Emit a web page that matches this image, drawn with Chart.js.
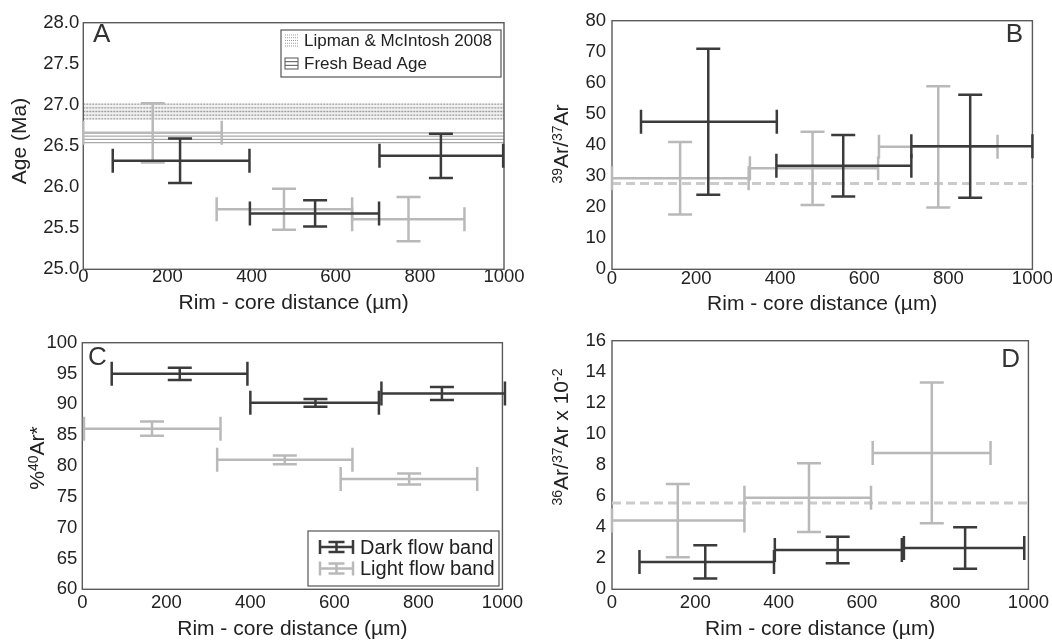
<!DOCTYPE html>
<html>
<head>
<meta charset="utf-8">
<script src="https://cdn.jsdelivr.net/npm/chart.js@4.4.0/dist/chart.umd.min.js"></script>
<style>
body { margin: 0; background: #fff; }
#wrap { position: relative; width: 1052px; height: 640px; }
.panel { position: absolute; width: 526px; height: 320px; }
</style>
</head>
<body>
<div id="wrap">
  <div class="panel" style="left:0;top:0"><canvas id="chartA" width="526" height="320"></canvas></div>
  <div class="panel" style="left:526px;top:0"><canvas id="chartB" width="526" height="320"></canvas></div>
  <div class="panel" style="left:0;top:320px"><canvas id="chartC" width="526" height="320"></canvas></div>
  <div class="panel" style="left:526px;top:320px"><canvas id="chartD" width="526" height="320"></canvas></div>
</div>
<script>
// shared
var seriesLabels = ['Dark flow band', 'Light flow band'];
var xTicks = [0, 200, 400, 600, 800, 1000];

// A - age (Ma)
var aTicks = [25.0, 25.5, 26.0, 26.5, 27.0, 27.5, 28.0];
var aDarkX = [230, 551, 850];
var aDarkXLo = [70, 396, 704];
var aDarkXHi = [395, 703, 998];
var aDarkY = [26.32, 25.68, 26.38];
var aDarkErr = [0.27, 0.16, 0.27];
var aLightX = [165, 477, 773];
var aLightXLo = [0, 317, 639];
var aLightXHi = [329, 639, 906];
var aLightY = [26.66, 25.73, 25.61];
var aLightErr = [0.36, 0.25, 0.27];
var bandLabels = ['Lipman & McIntosh 2008', 'Fresh Bead Age'];
var bandLo = [26.83, 26.54];
var bandHi = [27.01, 26.66];

// B - 39Ar/37Ar
var bTicks = [0, 10, 20, 30, 40, 50, 60, 70, 80];
var bDarkX = [229, 550, 852];
var bDarkXLo = [69, 391, 712];
var bDarkXHi = [392, 712, 1000];
var bDarkY = [47.5, 33.3, 39.6];
var bDarkErr = [23.5, 9.9, 16.6];
var bLightX = [162, 477, 776];
var bLightXLo = [0, 328, 635];
var bLightXHi = [325, 633, 917];
var bLightY = [29.3, 32.5, 39.4];
var bLightErr = [11.7, 11.8, 19.5];
var bRef = 27.6;

// C - %40Ar*
var cTicks = [60, 65, 70, 75, 80, 85, 90, 95, 100];
var cDarkX = [232, 555, 856];
var cDarkXLo = [70, 400, 712];
var cDarkXHi = [393, 706, 1006];
var cDarkY = [94.95, 90.24, 91.75];
var cDarkErr = [1.0, 0.62, 1.05];
var cLightX = [166, 482, 778];
var cLightXLo = [4, 321, 615];
var cLightXHi = [329, 643, 940];
var cLightY = [86.05, 81.0, 77.9];
var cLightErr = [1.15, 0.7, 0.9];

// D - 36Ar/37Ar x 10^-2
var dTicks = [0, 2, 4, 6, 8, 10, 12, 14, 16];
var dDarkX = [224, 542, 848];
var dDarkXLo = [66, 391, 701];
var dDarkXHi = [389, 696, 990];
var dDarkY = [1.76, 2.53, 2.66];
var dDarkErr = [1.07, 0.86, 1.33];
var dLightX = [158, 473, 768];
var dLightXLo = [0, 318, 626];
var dLightXHi = [318, 622, 909];
var dLightY = [4.42, 5.9, 8.78];
var dLightErr = [2.36, 2.21, 4.53];
var dRef = 5.56;

var FONT = "'Liberation Sans', Arial, Helvetica, sans-serif";
var TXT = '#222';
var DARK = '#3b3b3b';
var LIGHT = '#b9b9b9';
var REF = '#cbcbcb';
var CAP = 12;

function barSet(label, color, xs, lo, hi, ys, err) {
  return {
    label: label,
    data: xs.map(function (x, i) { return { x: x, y: ys[i] }; }),
    xLo: lo, xHi: hi, yErr: err,
    borderColor: color, backgroundColor: color,
    pointRadius: 0, showLine: false
  };
}

function refLine(y) {
  return {
    type: 'line', label: 'ref',
    data: [{ x: xTicks[0], y: y }, { x: xTicks[xTicks.length - 1], y: y }],
    borderColor: REF, borderWidth: 3, borderDash: [9, 5],
    pointRadius: 0, fill: false
  };
}

// text with ^{sup} parts, centred at x,y (optionally rotated)
function drawRich(ctx, text, x, y, size, rotate) {
  var small = Math.round(size * 0.65);
  var w = 0;
  var items = text.split(/(\^\{[^}]*\})/).filter(Boolean).map(function (s) {
    var sup = s.charAt(0) === '^';
    var t = sup ? s.slice(2, -1) : s;
    ctx.font = (sup ? small : size) + 'px ' + FONT;
    var m = ctx.measureText(t).width;
    w += m;
    return { t: t, sup: sup, w: m };
  });
  ctx.save();
  ctx.translate(x, y);
  if (rotate) ctx.rotate(-Math.PI / 2);
  ctx.fillStyle = TXT;
  ctx.textBaseline = 'alphabetic';
  ctx.textAlign = 'left';
  var cx = -w / 2;
  items.forEach(function (it) {
    ctx.font = (it.sup ? small : size) + 'px ' + FONT;
    ctx.fillText(it.t, cx, it.sup ? size * 0.03 : size * 0.35);
    cx += it.w;
  });
  ctx.restore();
}

function panelPlugin(p) {
  return {
    id: 'panel' + p.letter,
    beforeDatasetsDraw: function (chart) {
      var ctx = chart.ctx, a = chart.chartArea, ys = chart.scales.y;
      ctx.save();
      // bands (panel A)
      if (p.bands) {
        p.bands.lo.forEach(function (lo, i) {
          var st = p.bands.styles[i];
          var y0 = ys.getPixelForValue(p.bands.hi[i]), y1 = ys.getPixelForValue(lo);
          if (st.fill) { ctx.fillStyle = st.fill; ctx.fillRect(a.left, y0, a.right - a.left, y1 - y0); }
          ctx.strokeStyle = st.color; ctx.lineWidth = 1.3; ctx.setLineDash(st.dash);
          for (var k = 0; k < st.lines; k++) {
            var yy = y0 + (y1 - y0) * k / (st.lines - 1);
            ctx.beginPath(); ctx.moveTo(a.left, yy); ctx.lineTo(a.right, yy); ctx.stroke();
          }
          ctx.setLineDash([]);
        });
      }
      // frame
      ctx.strokeStyle = '#5a5a5a'; ctx.lineWidth = 1.4;
      ctx.strokeRect(a.left, a.top, a.right - a.left, a.bottom - a.top);
      ctx.restore();
    },
    afterDatasetsDraw: function (chart) {
      var ctx = chart.ctx, a = chart.chartArea, xs = chart.scales.x, ys = chart.scales.y;
      ctx.save();
      ctx.lineWidth = 2.5;
      ctx.lineCap = 'butt';
      // light bars first, dark on top
      for (var i = chart.data.datasets.length - 1; i >= 0; i--) {
        var ds = chart.data.datasets[i];
        if (!ds.yErr) continue;
        ctx.strokeStyle = ds.borderColor;
        ds.data.forEach(function (pt, j) {
          var x = xs.getPixelForValue(pt.x), y = ys.getPixelForValue(pt.y);
          var x0 = xs.getPixelForValue(ds.xLo[j]), x1 = xs.getPixelForValue(ds.xHi[j]);
          var yt = ys.getPixelForValue(pt.y + ds.yErr[j]), yb = ys.getPixelForValue(pt.y - ds.yErr[j]);
          ctx.beginPath();
          ctx.moveTo(x0, y); ctx.lineTo(x1, y);
          ctx.moveTo(x0, y - CAP); ctx.lineTo(x0, y + CAP);
          ctx.moveTo(x1, y - CAP); ctx.lineTo(x1, y + CAP);
          ctx.moveTo(x, yt); ctx.lineTo(x, yb);
          ctx.moveTo(x - CAP, yt); ctx.lineTo(x + CAP, yt);
          ctx.moveTo(x - CAP, yb); ctx.lineTo(x + CAP, yb);
          ctx.stroke();
        });
      }

      // band legend (A)
      if (p.bands) {
        var L = p.legendBox;
        ctx.strokeStyle = '#555'; ctx.lineWidth = 1.2;
        ctx.fillStyle = '#fff';
        ctx.fillRect(L.x, L.y, L.w, L.h);
        ctx.strokeRect(L.x, L.y, L.w, L.h);
        p.bands.labels.forEach(function (lab, i) {
          var cy = L.y + L.row0 + i * L.rowGap;
          var ix = L.x + 4, iw = 13, ih = 11;
          ctx.lineWidth = 1;
          if (i === 0) {
            ctx.strokeStyle = '#999'; ctx.setLineDash([1, 1]);
            for (var k = 0; k < 5; k++) {
              ctx.beginPath(); ctx.moveTo(ix, cy - ih / 2 + k * ih / 4); ctx.lineTo(ix + iw, cy - ih / 2 + k * ih / 4); ctx.stroke();
            }
            ctx.setLineDash([]);
          } else {
            ctx.strokeStyle = '#555';
            ctx.strokeRect(ix, cy - ih / 2, iw, ih);
            ctx.beginPath();
            ctx.moveTo(ix, cy - ih / 6); ctx.lineTo(ix + iw, cy - ih / 6);
            ctx.moveTo(ix, cy + ih / 6); ctx.lineTo(ix + iw, cy + ih / 6);
            ctx.stroke();
          }
          ctx.fillStyle = TXT; ctx.font = L.font + 'px ' + FONT;
          ctx.textBaseline = 'middle'; ctx.textAlign = 'left';
          ctx.fillText(lab, L.x + L.textDx, cy + 1);
        });
      }

      // series legend (C)
      if (p.seriesLegend) {
        var S = p.legendBox;
        ctx.strokeStyle = '#555'; ctx.lineWidth = 1.2;
        ctx.fillStyle = '#fff';
        ctx.fillRect(S.x, S.y, S.w, S.h);
        ctx.strokeRect(S.x, S.y, S.w, S.h);
        [0, 1].forEach(function (i) {
          var ds = chart.data.datasets[i];
          var cy = S.y + S.row0 + i * S.rowGap;
          var ix = S.x + 12, iw = 33, mid = ix + iw / 2;
          ctx.strokeStyle = ds.borderColor; ctx.lineWidth = 2.5;
          ctx.beginPath();
          ctx.moveTo(ix, cy); ctx.lineTo(ix + iw, cy);
          ctx.moveTo(ix, cy - 7); ctx.lineTo(ix, cy + 7);
          ctx.moveTo(ix + iw, cy - 7); ctx.lineTo(ix + iw, cy + 7);
          ctx.moveTo(mid, cy - 5); ctx.lineTo(mid, cy + 5);
          ctx.moveTo(mid - 8, cy - 5); ctx.lineTo(mid + 8, cy - 5);
          ctx.moveTo(mid - 8, cy + 5); ctx.lineTo(mid + 8, cy + 5);
          ctx.stroke();
          ctx.fillStyle = TXT; ctx.font = S.font + 'px ' + FONT;
          ctx.textBaseline = 'middle'; ctx.textAlign = 'left';
          ctx.fillText(ds.label, S.x + S.textDx, cy + 1);
        });
      }

      // panel letter
      ctx.fillStyle = '#333';
      ctx.font = '26px ' + FONT;
      ctx.textBaseline = 'middle';
      ctx.textAlign = p.letterPos.align;
      ctx.fillText(p.letter, p.letterPos.x, p.letterPos.y);

      // axis titles
      drawRich(ctx, p.yTitle, p.yTitlePos.x, p.yTitlePos.y, 21, true);
      drawRich(ctx, 'Rim - core distance (µm)', (a.left + a.right) / 2, p.xTitleY, 21, false);
      ctx.restore();
    }
  };
}

function createChart(id, p) {
  var ctx = document.getElementById(id).getContext('2d');
  var datasets = [
    barSet(seriesLabels[0], DARK, p.dark[0], p.dark[1], p.dark[2], p.dark[3], p.dark[4]),
    barSet(seriesLabels[1], LIGHT, p.light[0], p.light[1], p.light[2], p.light[3], p.light[4])
  ];
  if (p.ref != null) datasets.push(refLine(p.ref));

  var chart = new Chart(ctx, {
    type: 'scatter',
    data: { datasets: datasets },
    options: {
      responsive: false,
      animation: false,
      events: [],
      layout: { padding: { top: p.box.top, right: 526 - p.box.right, left: 0, bottom: 0 } },
      scales: {
        x: {
          type: 'linear',
          min: xTicks[0], max: xTicks[xTicks.length - 1],
          afterBuildTicks: function (s) { s.ticks = xTicks.map(function (v) { return { value: v }; }); },
          afterFit: function (s) { s.height = 320 - p.box.bottom; },
          grid: { display: false, drawTicks: false },
          border: { display: false },
          ticks: {
            padding: p.xPad, color: TXT, autoSkip: false, maxRotation: 0,
            font: { family: FONT, size: 18.5 },
            callback: function (v) { return String(v); }
          }
        },
        y: {
          type: 'linear',
          min: p.yTicks[0], max: p.yTicks[p.yTicks.length - 1],
          afterBuildTicks: function (s) { s.ticks = p.yTicks.map(function (v) { return { value: v }; }); },
          afterFit: function (s) { s.width = p.box.left; },
          grid: { display: false, drawTicks: false },
          border: { display: false },
          ticks: {
            padding: p.yPad, color: TXT, autoSkip: false,
            font: { family: FONT, size: 18.5 },
            callback: function (v) { return p.yDec ? Number(v).toFixed(p.yDec) : String(v); }
          }
        }
      },
      plugins: { legend: { display: false }, tooltip: { enabled: false } }
    },
    plugins: [panelPlugin(p)]
  });
  return chart;
}

createChart('chartA', {
  letter: 'A', letterPos: { x: 93, y: 35, align: 'left' },
  box: { left: 83.3, top: 22.7, right: 504, bottom: 269.3 },
  yTicks: aTicks, yDec: 1, xPad: -3, yPad: 4,
  yTitle: 'Age (Ma)', yTitlePos: { x: 19, y: 141 }, xTitleY: 302,
  dark: [aDarkX, aDarkXLo, aDarkXHi, aDarkY, aDarkErr],
  light: [aLightX, aLightXLo, aLightXHi, aLightY, aLightErr],
  bands: {
    labels: bandLabels, lo: bandLo, hi: bandHi,
    styles: [
      { lines: 5, dash: [2, 1], color: '#9c9c9c', fill: '#f1f1f1' },
      { lines: 4, dash: [], color: '#a9a9a9', fill: null }
    ]
  },
  legendBox: { x: 281, y: 30, w: 220, h: 47, row0: 10.5, rowGap: 23, textDx: 23, font: 17 }
});

createChart('chartB', {
  letter: 'B', letterPos: { x: 497, y: 35, align: 'right' },
  box: { left: 86, top: 20.7, right: 506.7, bottom: 269.3 },
  yTicks: bTicks, yDec: 0, xPad: -1, yPad: 6,
  yTitle: '^{39}Ar/^{37}Ar', yTitlePos: { x: 35, y: 144 }, xTitleY: 303,
  dark: [bDarkX, bDarkXLo, bDarkXHi, bDarkY, bDarkErr],
  light: [bLightX, bLightXLo, bLightXHi, bLightY, bLightErr],
  ref: bRef
});

createChart('chartC', {
  letter: 'C', letterPos: { x: 88, y: 38, align: 'left' },
  box: { left: 82.3, top: 22.7, right: 502.7, bottom: 269.3 },
  yTicks: cTicks, yDec: 0, xPad: 3, yPad: 5,
  yTitle: '%^{40}Ar*', yTitlePos: { x: 37, y: 138 }, xTitleY: 308,
  dark: [cDarkX, cDarkXLo, cDarkXHi, cDarkY, cDarkErr],
  light: [cLightX, cLightXLo, cLightXHi, cLightY, cLightErr],
  seriesLegend: true,
  legendBox: { x: 308, y: 211, w: 191, h: 55, row0: 16, rowGap: 21.5, textDx: 52, font: 20 }
});

createChart('chartD', {
  letter: 'D', letterPos: { x: 494, y: 40, align: 'right' },
  box: { left: 86, top: 20.7, right: 506.7, bottom: 269.3 },
  yTicks: dTicks, yDec: 0, xPad: 3, yPad: 6,
  yTitle: '^{36}Ar/^{37}Ar x 10^{-2}', yTitlePos: { x: 35, y: 117 }, xTitleY: 308,
  dark: [dDarkX, dDarkXLo, dDarkXHi, dDarkY, dDarkErr],
  light: [dLightX, dLightXLo, dLightXHi, dLightY, dLightErr],
  ref: dRef
});
</script>
</body>
</html>
